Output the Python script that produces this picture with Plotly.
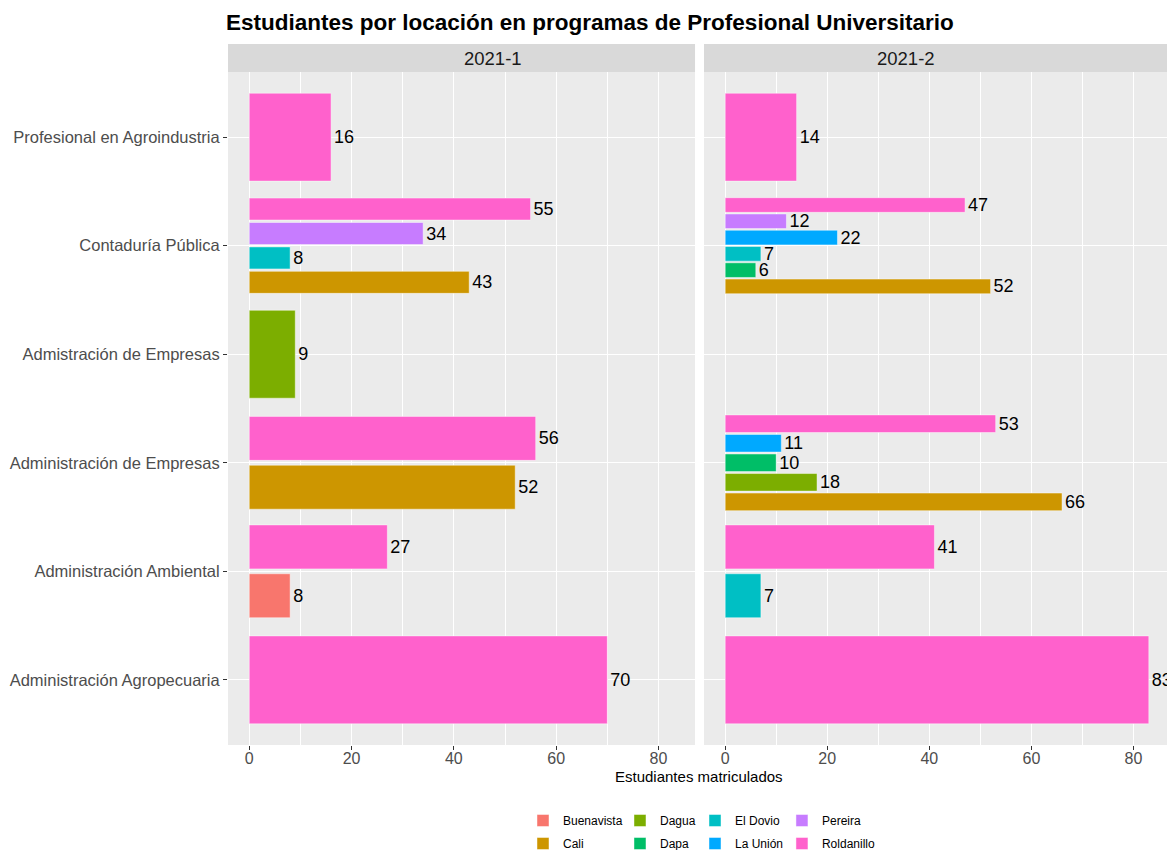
import plotly.graph_objects as go

# categorías de abajo hacia arriba
programas = [
    "Administración Agropecuaria",
    "Administración Ambiental",
    "Administración de Empresas",
    "Admistración de Empresas",
    "Contaduría Pública",
    "Profesional en Agroindustria",
]
locaciones = ["Buenavista", "Cali", "Dagua", "Dapa", "El Dovio", "La Unión", "Pereira", "Roldanillo"]
colores = ["#F8766D", "#CD9600", "#7CAE00", "#00BE67", "#00BFC4", "#00A9FF", "#C77CFF", "#FF61CC"]
semestres = ["2021-1", "2021-2"]

# 2021-1
prog_s1 = ["Profesional en Agroindustria",
           "Contaduría Pública", "Contaduría Pública", "Contaduría Pública", "Contaduría Pública",
           "Admistración de Empresas",
           "Administración de Empresas", "Administración de Empresas",
           "Administración Ambiental", "Administración Ambiental",
           "Administración Agropecuaria"]
loc_s1 = ["Roldanillo",
          "Cali", "El Dovio", "Pereira", "Roldanillo",
          "Dagua",
          "Cali", "Roldanillo",
          "Buenavista", "Roldanillo",
          "Roldanillo"]
val_s1 = [16, 43, 8, 34, 55, 9, 52, 56, 8, 27, 70]

# 2021-2
prog_s2 = ["Profesional en Agroindustria",
           "Contaduría Pública", "Contaduría Pública", "Contaduría Pública",
           "Contaduría Pública", "Contaduría Pública", "Contaduría Pública",
           "Administración de Empresas", "Administración de Empresas", "Administración de Empresas",
           "Administración de Empresas", "Administración de Empresas",
           "Administración Ambiental", "Administración Ambiental",
           "Administración Agropecuaria"]
loc_s2 = ["Roldanillo",
          "Cali", "Dapa", "El Dovio", "La Unión", "Pereira", "Roldanillo",
          "Cali", "Dagua", "Dapa", "La Unión", "Roldanillo",
          "El Dovio", "Roldanillo",
          "Roldanillo"]
val_s2 = [14, 52, 6, 7, 22, 12, 47, 66, 18, 10, 11, 53, 7, 41, 83]

datos = [(prog_s1, loc_s1, val_s1), (prog_s2, loc_s2, val_s2)]

# la página html tiene 8px de margen en el body
W, H = 1167, 842

fig = go.Figure()

# dodge tipo position_dodge2(padding = 0.1)
for k, (progs, locs, vals) in enumerate(datos):
    xa = "x" if k == 0 else "x2"
    ya = "y" if k == 0 else "y2"
    barras = {loc: dict(y=[], x=[], off=[], w=[]) for loc in locaciones}
    for p in programas:
        grupo = sorted([(locaciones.index(l), l, v) for pp, l, v in zip(progs, locs, vals) if pp == p])
        n = len(grupo)
        if n == 0:
            continue
        s = 0.9 / n
        for i, (_, l, v) in enumerate(grupo):
            barras[l]["y"].append(p)
            barras[l]["x"].append(v)
            barras[l]["off"].append(-0.45 + s * i + 0.05 * s)
            barras[l]["w"].append(0.9 * s)
    for j, loc in enumerate(locaciones):
        b = barras[loc]
        if not b["x"]:
            continue
        fig.add_trace(go.Bar(
            x=b["x"], y=b["y"], orientation="h",
            offset=b["off"], width=b["w"],
            marker=dict(color=colores[j], line=dict(color="rgba(255,255,255,0.45)", width=1)),
            text=b["x"], textposition="outside", constraintext="none", cliponaxis=False,
            textfont=dict(size=18, color="black"),
            name=loc, legendgroup=loc, showlegend=False,
            xaxis=xa, yaxis=ya,
        ))

# leyenda en 4 columnas (2 filas cada una)
leg_x = [0.4413, 0.5244, 0.5887, 0.6632]
for j, loc in enumerate(locaciones):
    col = j // 2
    lname = "legend" if col == 0 else "legend%d" % (col + 1)
    fig.add_trace(go.Bar(
        x=[None], y=[None], orientation="h", name=loc, legendgroup=loc,
        marker=dict(color=colores[j], line=dict(color="rgba(255,255,255,0.45)", width=1)),
        showlegend=True, legend=lname, xaxis="x", yaxis="y",
    ))

legend_style = dict(orientation="v", yref="container", xref="container",
                    yanchor="top", y=(H - 798) / H, xanchor="left",
                    font=dict(size=12, color="black"), bgcolor="rgba(0,0,0,0)",
                    tracegroupgap=4, itemwidth=30)
legends = {}
for c in range(4):
    key = "legend" if c == 0 else "legend%d" % (c + 1)
    legends[key] = dict(legend_style, x=leg_x[c])

eje_x = dict(range=[-4.15, 87.15], dtick=20, tick0=0, showgrid=True, gridcolor="white", gridwidth=1.4,
             zeroline=False, ticks="outside", ticklen=4, tickcolor="#333333", automargin=False,
             ticklabelstandoff=-5,
             tickfont=dict(family="Liberation Sans, Arial", size=16, color="#4d4d4d"),
             minor=dict(tick0=10, dtick=20, showgrid=True, gridcolor="white", gridwidth=0.6),
             fixedrange=True)
eje_y = dict(type="category", categoryorder="array", categoryarray=programas,
             range=[-0.6, 5.6], showgrid=True, gridcolor="white", gridwidth=1.4, zeroline=False,
             automargin=False, fixedrange=True)

paneles_top = 0.96
fig.update_layout(
    width=W, height=H,
    margin=dict(l=220, r=5, t=36, b=105, autoexpand=False),
    paper_bgcolor="white", plot_bgcolor="#EBEBEB",
    barmode="overlay",
    font=dict(family="Liberation Sans, Arial"),
    title=dict(text="<b>Estudiantes por locación en programas de Profesional Universitario</b>",
               x=218 / W, xanchor="left", y=1 - 14 / H, yanchor="middle",
               font=dict(size=22.5, color="black")),
    xaxis=dict(eje_x, domain=[0, 0.4958], anchor="y"),
    xaxis2=dict(eje_x, domain=[0.5053, 1], anchor="y2"),
    yaxis=dict(eje_y, domain=[0, paneles_top], anchor="x", ticks="outside", ticklen=4,
               tickcolor="#333333", tickfont=dict(size=16.5, color="#4d4d4d")),
    yaxis2=dict(eje_y, domain=[0, paneles_top], anchor="x2", matches="y", showticklabels=False),
    **legends,
)

# tiras de faceta
dominios = [(0, 0.4958), (0.5053, 1)]
for (x0, x1), sem in zip(dominios, semestres):
    fig.add_shape(type="rect", xref="paper", yref="paper", x0=x0, x1=x1, y0=paneles_top, y1=1.0,
                  fillcolor="#D9D9D9", line=dict(width=0), layer="below")
    fig.add_annotation(text=sem, xref="paper", yref="paper", x=(x0 + x1) / 2, y=(paneles_top + 1) / 2,
                       showarrow=False, font=dict(size=18.5, color="#1a1a1a"), yanchor="middle")

fig.add_annotation(text="Estudiantes matriculados", xref="paper", yref="paper", x=0.5, y=-31 / 701,
                   yanchor="middle", showarrow=False, font=dict(size=15, color="black"))

fig.write_html("out.html")
